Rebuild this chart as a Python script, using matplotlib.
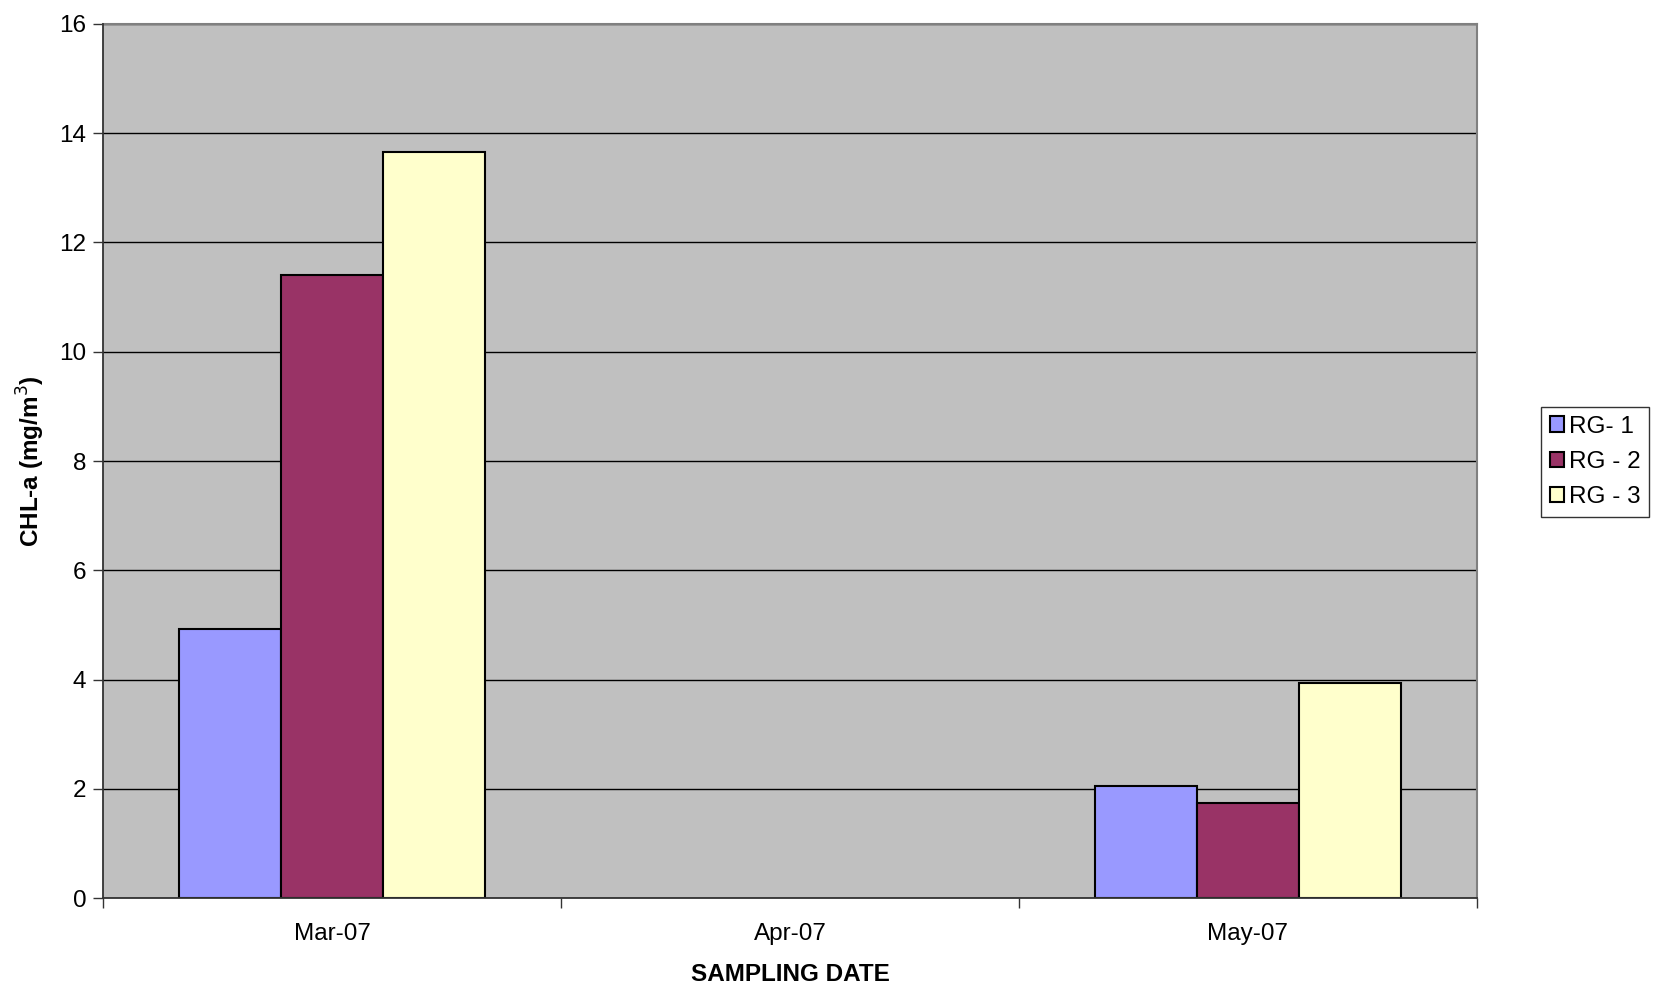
import numpy as np
import matplotlib.pyplot as plt
from matplotlib.patches import Patch

plt.rcParams['font.family'] = ['Liberation Sans', 'DejaVu Sans']

# Sampling months and chlorophyll-a per station
dates = ["Mar-07", "Apr-07", "May-07"]
series_names = ["RG- 1", "RG - 2", "RG - 3"]
rg1 = [4.93, 0.0, 2.05]
rg2 = [11.41, 0.0, 1.74]
rg3 = [13.66, 0.0, 3.94]
series_values = [rg1, rg2, rg3]
colors = ["#9999FF", "#993366", "#FFFFCC"]
yticks = [0, 2, 4, 6, 8, 10, 12, 14, 16]

FS = 17.5
W, H = 1658, 997
fig = plt.figure(figsize=(W / 100, H / 100), dpi=100)
left, right, top, bottom = 103, 1477, 24, 898
ax = fig.add_axes([left / W, 1 - bottom / H, (right - left) / W, (bottom - top) / H])
ax.set_facecolor("#C0C0C0")

x = np.arange(len(dates))
bw = 1 / 4.5
for i, (name, vals, c) in enumerate(zip(series_names, series_values, colors)):
    xs = x + (i - 1) * bw
    vals = np.array(vals)
    mask = vals > 0
    ax.bar(xs[mask], vals[mask], width=bw, color=c, edgecolor="black",
           linewidth=1.5, zorder=3, label=name)

ax.set_xlim(-0.5, len(dates) - 0.5)
ax.set_ylim(0, 16)
ax.set_yticks(yticks)
ax.set_yticklabels([str(v) for v in yticks], fontsize=FS)
ax.yaxis.grid(True, color="black", linewidth=1.0, zorder=1)
ax.set_axisbelow(True)

# category labels centred, tick marks on category boundaries
ax.set_xticks(x)
ax.set_xticklabels(dates, fontsize=FS)
ax.tick_params(axis="x", length=0, pad=18)
ax.set_xticks(np.arange(len(dates) + 1) - 0.5, minor=True)
ax.tick_params(axis="x", which="minor", length=7, width=1, color="#333333", direction="out")
ax.tick_params(axis="y", length=7, width=1, color="#333333", direction="out", pad=5)

for s in ["left", "bottom"]:
    ax.spines[s].set_color("#333333")
    ax.spines[s].set_linewidth(1.3)
    ax.spines[s].set_zorder(4)
for s in ["top", "right"]:
    ax.spines[s].set_color("#808080")
    ax.spines[s].set_linewidth(1.5)

ax.set_xlabel("SAMPLING DATE", fontsize=FS, fontweight="bold", labelpad=13)
ax.set_ylabel("CHL-a (mg/m$^3$)", fontsize=FS, fontweight="bold")
ax.yaxis.set_label_coords(-0.041, 0.5)

handles = [Patch(facecolor=c, edgecolor="black", linewidth=1.5) for c in colors]
leg = fig.legend(handles, series_names, loc="upper left",
                 bbox_to_anchor=(1541 / W, 1 - 407 / H), fontsize=FS,
                 frameon=True, fancybox=False, edgecolor="black",
                 handlelength=0.6, handleheight=0.6, handletextpad=0.2,
                 borderpad=0.35, labelspacing=0.55, borderaxespad=0)
leg.get_frame().set_linewidth(1.0)

fig.savefig("out.png", dpi=100, facecolor="white")
